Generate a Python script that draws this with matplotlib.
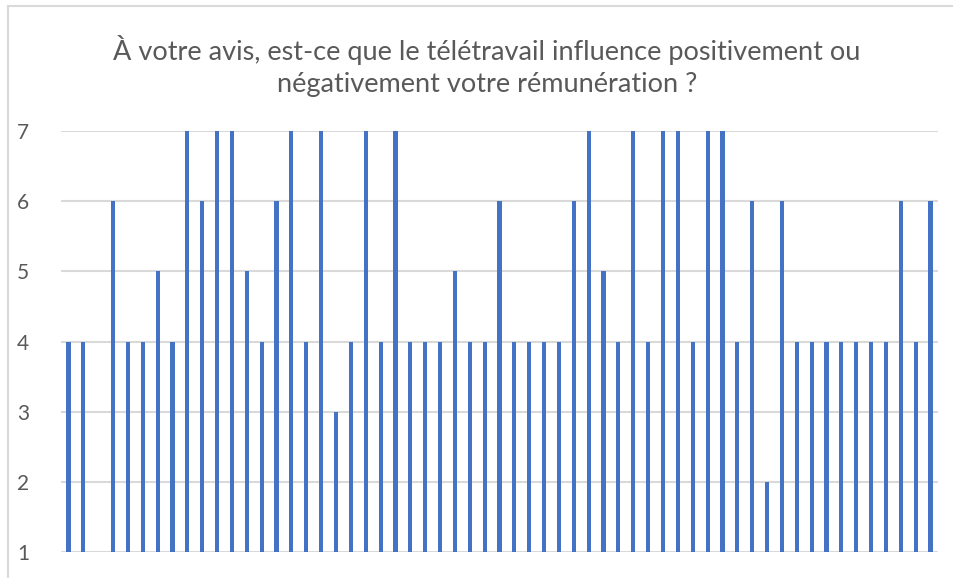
import matplotlib
matplotlib.use("Agg")
import matplotlib.pyplot as plt
from matplotlib.lines import Line2D
import numpy as np

title = "À votre avis, est-ce que le télétravail influence positivement ou\nnégativement votre rémunération ?"
values = [4, 4, 1, 6, 4, 4, 5, 4, 7, 6, 7, 7, 5, 4, 6, 7, 4, 7, 3, 4,
          7, 4, 7, 4, 4, 4, 5, 4, 4, 6, 4, 4, 4, 4, 6, 7, 5, 4, 7, 4,
          7, 7, 4, 7, 7, 4, 6, 2, 6, 4, 4, 4, 4, 4, 4, 4, 6, 4, 6]
yticks = [1, 2, 3, 4, 5, 6, 7]

plt.rcParams['font.family'] = ['Lato', 'DejaVu Sans']

W, H = 954, 578
fig = plt.figure(figsize=(W / 100, H / 100), dpi=100)
ax = fig.add_axes([61 / W, (H - 552) / H, (938 - 61) / W, (552 - 131) / H])

x = np.arange(len(values))
base = yticks[0]
ax.bar(x, np.array(values) - base, bottom=base, width=0.28, color="#4472C4", zorder=3)

ax.set_xlim(-0.5, len(values) - 0.5)
ax.set_ylim(yticks[0], yticks[-1])
ax.set_yticks(yticks)
ax.set_yticklabels([str(v) for v in yticks], fontsize=15, color="#595959")
ax.set_xticks([])
ax.tick_params(axis="y", length=0, pad=23)
ax.yaxis.grid(True, color="#d9d9d9", linewidth=1.5, zorder=0)
ax.set_axisbelow(True)
for s in ax.spines.values():
    s.set_visible(False)
ax.set_clip_on(False)

fig.text(487 / W, 1 - 66 / H, title, ha="center", va="center", fontsize=19.5,
         color="#595959", linespacing=1.33)

# chart border (top and left visible)
fig.add_artist(Line2D([8 / W, 1], [1 - 6 / H, 1 - 6 / H], color="#d9d9d9", linewidth=1.5))
fig.add_artist(Line2D([8 / W, 8 / W], [0, 1 - 6 / H], color="#d9d9d9", linewidth=1.5))

fig.savefig("out.png", dpi=100)
